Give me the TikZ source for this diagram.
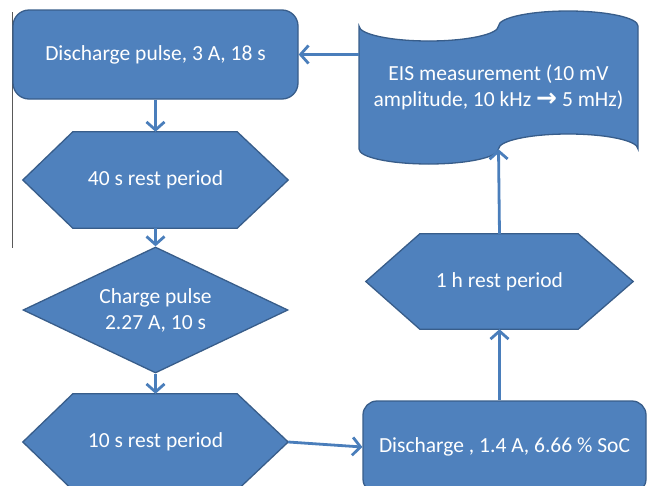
\documentclass[tikz,border=0pt]{standalone}
\usepackage{fontspec}
\setmainfont{Carlito}
\newfontfamily\symfont{DejaVu Sans}
\usetikzlibrary{arrows.meta,calc,shapes.geometric}
\definecolor{boxfill}{HTML}{4F81BD}
\definecolor{boxline}{HTML}{385D8A}
\definecolor{arrcol}{HTML}{4A7EBB}
\tikzset{
  shapestyle/.style={fill=boxfill,draw=boxline,line width=1.3pt},
  txt/.style={text=white,font=\fontsize{21.5}{26}\selectfont,align=center,inner sep=0pt},
  roundbox/.style={shapestyle,txt,rounded corners=16pt,minimum width=#1},
  hexbox/.style={txt,minimum width=265pt,minimum height=96pt},
  arr/.style={draw=arrcol,line width=2.8pt,-{Straight Barb[length=8pt,width=18pt]}},
}
\begin{document}
\begin{tikzpicture}[x=1pt,y=-1pt]
\useasboundingbox (0,0) rectangle (651,485);
% left gray line
\coordinate (lt) at (12.5,12);
\coordinate (lb) at (12.5,248);
\draw[gray!70!black,line width=0.9pt] (lt) -- (lb);

% Discharge pulse box
\node[roundbox=285pt,minimum height=89pt] (dp) at (155.5,54.5) {Discharge pulse, 3 A, 18 s};

% hexagon 1
\node[hexbox] (h1) at (155.5,180) {};
\fill[shapestyle] (h1.west) -- ($(h1.north west)+(50,0)$) -- ($(h1.north east)+(-51,0)$) -- (h1.east)
  -- ($(h1.south east)+(-51,0)$) -- ($(h1.south west)+(50,0)$) -- cycle;
\node[txt] at (h1.center) {40 s rest period};

% diamond
\node[diamond,shapestyle,txt,minimum width=265pt,minimum height=126pt,aspect=2.1] (cp) at (155.5,310) {Charge pulse\\2.27 A, 10 s};

% hexagon 2
\node[hexbox] (h2) at (155.5,442) {};
\fill[shapestyle] (h2.west) -- ($(h2.north west)+(50,0)$) -- ($(h2.north east)+(-51,0)$) -- (h2.east)
  -- ($(h2.south east)+(-51,0)$) -- ($(h2.south west)+(50,0)$) -- cycle;
\node[txt] at (h2.center) {10 s rest period};

% Discharge box 2
\node[roundbox=283pt,minimum height=92pt,rounded corners=14pt] (d2) at (504.5,447) {Discharge , 1.4 A, 6.66 \% SoC};

% hexagon 3
\node[txt,minimum width=267pt,minimum height=95pt] (h3) at (499.5,281.5) {};
\fill[shapestyle] (h3.west) -- ($(h3.north west)+(54,0)$) -- ($(h3.north east)+(-55,0)$) -- (h3.east)
  -- ($(h3.south east)+(-55,0)$) -- ($(h3.south west)+(54,0)$) -- cycle;
\node[txt] at (h3.center) {1 h rest period};

% EIS punched tape
\node[txt,minimum width=279pt,minimum height=123pt] (eis) at (498.5,87.5) {};
\fill[shapestyle] (359,26) .. controls (359,34.28) and (390.23,41) .. (428.75,41)
  .. controls (467.27,41) and (498.5,34.28) .. (498.5,26)
  .. controls (498.5,17.72) and (529.73,11) .. (568.25,11)
  .. controls (606.77,11) and (638,17.72) .. (638,26)
  -- (638,149)
  .. controls (638,140.72) and (606.77,134) .. (568.25,134)
  .. controls (529.73,134) and (498.5,140.72) .. (498.5,149)
  .. controls (498.5,157.28) and (467.27,164) .. (428.75,164)
  .. controls (390.23,164) and (359,157.28) .. (359,149)
  -- cycle;
\node[txt] at (eis.center) {EIS measurement (10 mV\\amplitude, 10 kHz {\symfont\bfseries\fontsize{25}{26}\selectfont →} 5 mHz)};

% connectors
\draw[arr] (dp.south) -- (h1.north);
\draw[arr] (h1.south) -- (cp.north);
\draw[arr] (cp.south) -- (h2.north);
\draw[arr] (h2.east) -- (d2.west);
\draw[arr] (h3.south |- d2.north) -- (h3.south);
\draw[arr] (h3.north) -- (eis.south);
\draw[arr] (eis.west |- dp.east) -- (dp.east);
\end{tikzpicture}
\end{document}
